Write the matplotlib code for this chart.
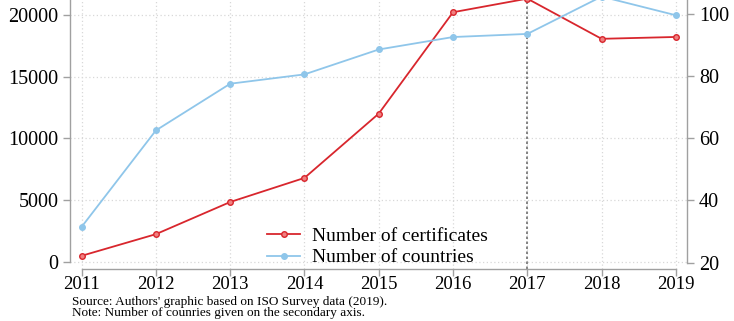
import matplotlib
matplotlib.use("Agg")
import matplotlib.pyplot as plt

plt.rcParams['font.family'] = ['Liberation Serif', 'DejaVu Serif']

# data
years = [2011, 2012, 2013, 2014, 2015, 2016, 2017, 2018, 2019]
certificates = [500, 2250, 4850, 6800, 12000, 20200, 21300, 18050, 18200]
countries = [31.5, 62.5, 77.5, 80.5, 88.5, 92.5, 93.5, 105.5, 99.5]
left_ticks = [0, 5000, 10000, 15000, 20000]
right_ticks = [20, 40, 60, 80, 100]

red = '#d8262d'
blue = '#8fc6ea'
axis_grey = '#a0a0a0'
grid_grey = '#d8d8d8'

fig = plt.figure(figsize=(7.34, 3.21), dpi=100)
ax = fig.add_axes([0.095, 0.162, 0.841, 0.87])
ax2 = ax.twinx()

# certificates on the left axis, countries on the right
ax.plot(years, certificates, color=red, lw=1.3, marker='o', ms=4,
        mfc='#f08080', mec=red, mew=1, label='Number of certificates', zorder=4)
ax2.plot(years, countries, color=blue, lw=1.3, marker='o', ms=4,
         mfc=blue, mec=blue, label='Number of countries', zorder=3)

ax.set_xlim(2010.84, 2019.15)
ax.set_ylim(-567, 22020)
ax2.set_ylim(17.97, 107.7)

# dotted grid
for v in left_ticks:
    ax.axhline(v, color=grid_grey, lw=0.9, ls=(0, (1, 2)), zorder=0)
for y in years:
    ax.axvline(y, color=grid_grey, lw=0.9, ls=(0, (1, 2)), zorder=0)
ax.axvline(2017, color='#707070', lw=1.2, ls=(0, (1.5, 1.5)), zorder=2)

ax.set_xticks(years)
ax.set_yticks(left_ticks)
ax2.set_yticks(right_ticks)

for a in (ax, ax2):
    a.spines['top'].set_visible(False)
    for s in a.spines.values():
        s.set_color(axis_grey)
        s.set_linewidth(1.0)
    a.tick_params(colors=axis_grey, labelcolor='black', labelsize=14.5,
                  length=5, width=1.0)
ax.spines['right'].set_visible(False)
ax2.spines['left'].set_visible(False)
ax2.spines['bottom'].set_visible(False)
ax.spines['bottom'].set_bounds(2011, 2019)
ax.spines['left'].set_bounds(0, 22020)
ax2.spines['right'].set_bounds(20, 107.7)
ax.tick_params(axis='x', labelsize=13.5, pad=0)
ax.tick_params(axis='y', pad=3)

h1, l1 = ax.get_legend_handles_labels()
h2, l2 = ax2.get_legend_handles_labels()
ax2.legend(h1 + h2, l1 + l2, loc='upper left', bbox_to_anchor=(0.307, 0.177),
           frameon=False, fontsize=14, handlelength=1.7, handletextpad=0.6,
           labelspacing=0.2, borderaxespad=0)

fig.text(0.098, 0.006,
         "Source: Authors' graphic based on ISO Survey data (2019).\n"
         "Note: Number of counries given on the secondary axis.",
         fontsize=9.5, va='bottom', linespacing=0.95)

fig.savefig('out.png', dpi=100)
